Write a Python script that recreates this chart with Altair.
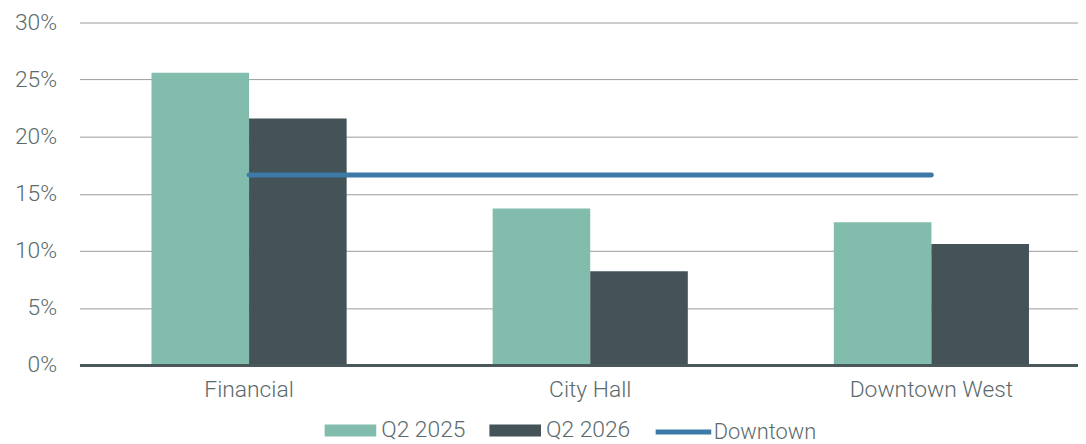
import altair as alt
import pandas as pd

# ---- data ----
districts = ["Financial", "City Hall", "Downtown West"]
periods = ["Q2 2025", "Q2 2026"]
q2_2025 = [25.6, 13.7, 12.5]
q2_2026 = [21.6, 8.2, 10.6]
downtown_label = "Downtown"
downtown = [16.65, 16.65, 16.65]
y_ticks = [0, 5, 10, 15, 20, 25, 30]

bars_df = pd.DataFrame({
    "district": districts * 2,
    "period": [periods[0]] * len(districts) + [periods[1]] * len(districts),
    "value": q2_2025 + q2_2026,
})
line_df = pd.DataFrame({
    "district": districts,
    "series": [downtown_label] * len(districts),
    "value": downtown,
})

FONT = "Roboto"
FS = 23
TEXT = "#5b6a6b"
TEAL = "#82bcad"
DARK = "#435357"
BLUE = "#3d7aa8"

x_enc = alt.X(
    "district:N", sort=districts, title=None,
    scale=alt.Scale(paddingInner=0.428, paddingOuter=0.1774, align=0.595),
    axis=alt.Axis(labelAngle=0, ticks=False, domainColor="#4a585b", domainWidth=3,
                  labelPadding=14, zindex=1, grid=False),
)
y_enc = alt.Y(
    "value:Q", title=None, scale=alt.Scale(domain=[0, 30]),
    axis=alt.Axis(values=y_ticks, labelExpr="datum.value + '%'", domain=False, ticks=False,
                  gridColor="#9b9b9b", gridWidth=1, labelPadding=23),
)

legend_common = dict(
    orient="none", direction="horizontal", title=None, padding=0,
    labelFont=FONT, labelColor=TEXT, labelFontWeight=300,
    columnPadding=24, symbolOpacity=1,
)

bars = alt.Chart(bars_df).mark_bar().encode(
    x=x_enc,
    xOffset=alt.XOffset("period:N", sort=periods,
                        scale=alt.Scale(paddingInner=0, paddingOuter=0)),
    y=y_enc,
    color=alt.Color(
        "period:N",
        scale=alt.Scale(domain=periods, range=[TEAL, DARK]),
        legend=alt.Legend(legendX=247, legendY=385, labelOffset=5, labelFontSize=23,
                          symbolType="M-1,-0.23H1V0.23H-1Z", symbolSize=2704,
                          symbolStrokeWidth=0, **legend_common),
    ),
)

line = alt.Chart(line_df).mark_line(strokeWidth=5, strokeCap="round").encode(
    x=alt.X("district:N", sort=districts),
    y=alt.Y("value:Q"),
    color=alt.Color(
        "series:N",
        scale=alt.Scale(domain=[downtown_label], range=[BLUE]),
        legend=alt.Legend(legendX=578, legendY=382, labelOffset=0, labelFontSize=22,
                          symbolType="stroke", symbolSize=3136,
                          symbolStrokeWidth=5, **legend_common),
    ),
)

chart = (
    alt.layer(bars, line)
    .resolve_scale(color="independent")
    .properties(
        width=1006, height=345,
        autosize=alt.AutoSizeParams(type="none"),
        padding={"left": 72, "top": 13, "right": 0, "bottom": 80},
    )
    .configure_view(stroke=None)
    .configure_axis(labelFont=FONT, labelFontSize=FS, labelColor=TEXT, labelFontWeight=300)
)

chart.save("out.html", embed_options={"renderer": "svg", "actions": False})
